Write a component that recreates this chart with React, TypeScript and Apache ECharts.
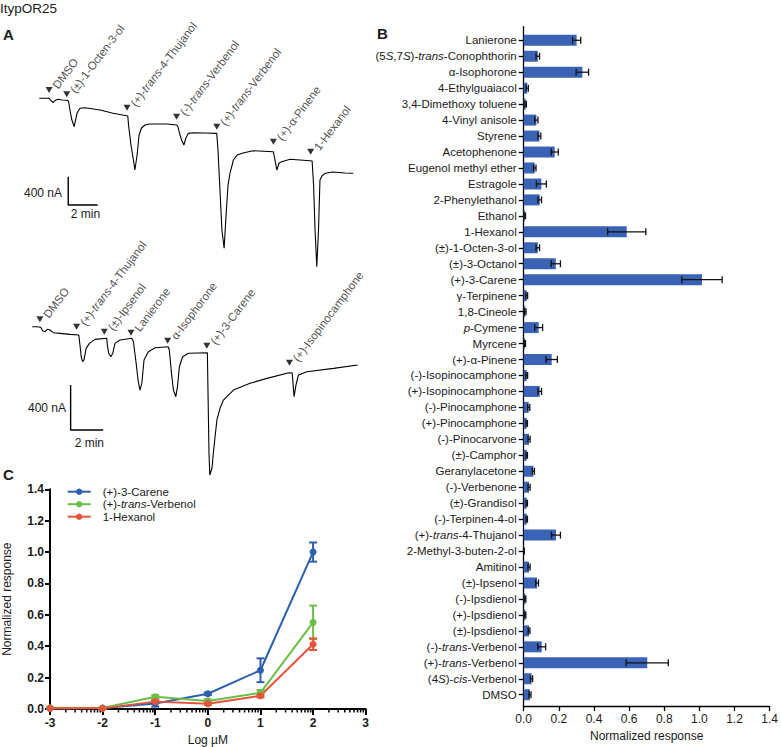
import React, { useEffect, useRef } from "react";
import * as echarts from "echarts";

const FONT = "'Liberation Sans', Arial, Helvetica, sans-serif";
const INK = "#1a1a1a";
const BAR_BLUE = "#3a63b6";

// ---------- Panel A: two-electrode voltage-clamp traces (time s, current nA) ----------
const trace1: [number, number][] = [
  [0, 0], [40, 0], [46, -24], [56, -62], [64, -31], [76, -14], [93, -24], [113, -28], [119, -38],
  [125, -165], [133, -307], [142, -401], [148, -307], [154, -208], [166, -141], [186, -133],
  [248, -165], [301, -212], [361, -250], [364, -377], [374, -660], [384, -872], [390, -1013],
  [399, -801], [407, -519], [417, -420], [431, -377], [452, -363], [521, -363], [561, -377],
  [566, -406], [574, -519], [582, -603], [590, -660], [598, -561], [608, -495], [627, -486],
  [676, -490], [724, -495], [729, -731], [737, -1296], [745, -1861], [754, -2120], [762, -1649],
  [770, -1225], [778, -1056], [792, -872], [807, -801], [831, -773], [872, -740], [955, -755],
  [960, -844], [969, -1013], [978, -914], [989, -896], [1023, -862], [1104, -882], [1113, -886],
  [1119, -1225], [1125, -1861], [1132, -2380], [1139, -1861], [1145, -1154], [1153, -1098],
  [1166, -1060], [1198, -1041], [1247, -1056], [1281, -1060],
];
const stim1Labels = ["DMSO", "(±)-1-Octen-3-ol", "(+)-_trans_-4-Thujanol", "(-)-_trans_-Verbenol", "(+)-_trans_-Verbenol", "(+)-α-Pinene", "1-Hexanol"];
const stim1Times = [40, 112, 358, 560, 724, 955, 1107];
const stim1Levels = [117, 57, -133, -260, -401, -613, -755];
const scaleBar1: [number, number][] = [[118, -1108], [118, -1508], [238, -1508]];

const trace2: [number, number][] = [
  [0, 0], [16, 0], [31, -5], [38, -36], [47, -44], [55, -23], [65, -29], [77, -53], [102, -59],
  [139, -68], [171, -74], [176, -178], [180, -267], [185, -311], [190, -296], [198, -192],
  [210, -148], [231, -112], [274, -103], [276, -163], [281, -236], [289, -267], [296, -236],
  [304, -148], [323, -118], [366, -103], [372, -133], [382, -325], [389, -474], [396, -563],
  [403, -503], [411, -296], [427, -222], [452, -187], [500, -178], [504, -207], [512, -414],
  [519, -563], [528, -622], [534, -533], [541, -356], [553, -267], [574, -236], [644, -231],
  [647, -681], [650, -1125], [653, -1318], [661, -1256], [666, -1123], [679, -829], [691, -723],
  [703, -652], [740, -563], [801, -503], [863, -459], [944, -409], [956, -412], [961, -563],
  [963, -622], [970, -518], [979, -429], [1010, -400], [1108, -370], [1197, -340],
];
const stim2Labels = ["DMSO", "(+)-_trans_-4-Thujanol", "(±)-Ipsenol", "Lanierone", "α-Isophorone", "(+)-3-Carene", "(+)-Isopinocamphone"];
const stim2Times = [28, 163, 265, 363, 498, 642, 946];
const stim2Levels = [66, 0, -44, -53, -124, -169, -320];
const scaleBar2: [number, number][] = [[141, -518], [141, -918], [261, -918]];

// ---------- Panel B: odorant screen ----------
const compounds = [
  "Lanierone", "(5_S_,7_S_)-_trans_-Conophthorin", "α-Isophorone", "4-Ethylguaiacol",
  "3,4-Dimethoxy toluene", "4-Vinyl anisole", "Styrene", "Acetophenone", "Eugenol methyl ether",
  "Estragole", "2-Phenylethanol", "Ethanol", "1-Hexanol", "(±)-1-Octen-3-ol", "(±)-3-Octanol",
  "(+)-3-Carene", "γ-Terpinene", "1,8-Cineole", "_p_-Cymene", "Myrcene", "(+)-α-Pinene",
  "(-)-Isopinocamphone", "(+)-Isopinocamphone", "(-)-Pinocamphone", "(+)-Pinocamphone",
  "(-)-Pinocarvone", "(±)-Camphor", "Geranylacetone", "(-)-Verbenone", "(±)-Grandisol",
  "(-)-Terpinen-4-ol", "(+)-_trans_-4-Thujanol", "2-Methyl-3-buten-2-ol", "Amitinol",
  "(±)-Ipsenol", "(-)-Ipsdienol", "(+)-Ipsdienol", "(±)-Ipsdienol", "(-)-_trans_-Verbenol",
  "(+)-_trans_-Verbenol", "(4_S_)-_cis_-Verbenol", "DMSO",
];
const responses = [
  0.297, 0.079, 0.329, 0.02, 0.011, 0.071, 0.088, 0.174, 0.062, 0.099, 0.09, 0.006, 0.578, 0.079,
  0.18, 1.0, 0.017, 0.009, 0.084, 0.007, 0.157, 0.017, 0.09, 0.028, 0.017, 0.03, 0.017, 0.054,
  0.03, 0.017, 0.017, 0.181, 0.002, 0.03, 0.075, 0.009, 0.009, 0.03, 0.101, 0.693, 0.044, 0.035,
];
const responseErr = [
  0.023, 0.01, 0.035, 0.006, 0.004, 0.009, 0.008, 0.02, 0.007, 0.028, 0.01, 0.004, 0.107, 0.01,
  0.026, 0.113, 0.005, 0.004, 0.022, 0.003, 0.032, 0.005, 0.01, 0.006, 0.004, 0.006, 0.004, 0.006,
  0.006, 0.004, 0.004, 0.025, 0.001, 0.006, 0.008, 0.003, 0.003, 0.005, 0.022, 0.118, 0.006, 0.006,
];

// ---------- Panel C: dose-response ----------
const logDose = [-3, -2, -1, 0, 1, 2];
const careneMean = [0.003, 0.006, 0.035, 0.097, 0.247, 1.0];
const careneSem = [0.004, 0.004, 0.02, 0.008, 0.076, 0.061];
const verbenolMean = [0.008, 0.006, 0.078, 0.051, 0.103, 0.552];
const verbenolSem = [0.003, 0.003, 0.01, 0.01, 0.018, 0.107];
const hexanolMean = [0.004, 0.004, 0.047, 0.034, 0.084, 0.413];
const hexanolSem = [0.002, 0.002, 0.008, 0.008, 0.01, 0.037];
const doseSeries = [
  { name: "(+)-3-Carene", label: "(+)-3-Carene", color: "#2c5fae", mean: careneMean, sem: careneSem },
  { name: "(+)-trans-Verbenol", label: "(+)-_trans_-Verbenol", color: "#6cbd47", mean: verbenolMean, sem: verbenolSem },
  { name: "1-Hexanol", label: "1-Hexanol", color: "#e5533b", mean: hexanolMean, sem: hexanolSem },
];

const rich = (s: string) => s.replace(/_([^_]+)_/g, "{i|$1}");
const italicStyle = (size: number, color = INK, weight: any = "normal") => ({
  i: { fontStyle: "italic", fontSize: size, fontFamily: FONT, color, fontWeight: weight },
});

function buildOption(): any {
  const minorTicks: number[] = [];
  for (let d = -3; d < 3; d++) for (let k = 2; k <= 9; k++) minorTicks.push(d + Math.log10(k));

  const stimSeries = (xi: number, times: number[], levels: number[], labels: string[]) => ({
    type: "scatter",
    xAxisIndex: xi,
    yAxisIndex: xi,
    data: times.map((t, i) => [t, levels[i]]),
    symbol: "triangle",
    symbolRotate: 180,
    symbolSize: [7, 6],
    itemStyle: { color: "#000" },
    z: 5,
    label: {
      show: true,
      position: "right",
      distance: 1,
      rotate: 53,
      align: "left",
      verticalAlign: "bottom",
      offset: [3, 5.5],
      color: INK,
      fontSize: 11.5,
      fontFamily: FONT,
      formatter: (p: any) => rich(labels[p.dataIndex]),
      rich: italicStyle(11.5),
    },
  });
  const traceSeries = (xi: number, data: [number, number][]) => ({
    type: "line", xAxisIndex: xi, yAxisIndex: xi, data, showSymbol: false, symbol: "none",
    lineStyle: { color: "#000", width: 1.1 }, z: 3,
  });
  const barSeries = (xi: number, data: [number, number][]) => ({
    type: "line", xAxisIndex: xi, yAxisIndex: xi, data, showSymbol: false, symbol: "none",
    lineStyle: { color: "#000", width: 1.4 },
  });

  const series: any[] = [
    traceSeries(0, trace1), barSeries(0, scaleBar1), stimSeries(0, stim1Times, stim1Levels, stim1Labels),
    traceSeries(1, trace2), barSeries(1, scaleBar2), stimSeries(1, stim2Times, stim2Levels, stim2Labels),
    {
      type: "bar", xAxisIndex: 2, yAxisIndex: 2, data: responses, barWidth: 11,
      itemStyle: { color: BAR_BLUE },
    },
    {
      type: "custom", xAxisIndex: 2, yAxisIndex: 2, z: 4,
      data: responses.map((v, i) => [Math.max(0, v - responseErr[i]), v + responseErr[i], i]),
      renderItem: (_p: any, api: any) => {
        const a = api.coord([api.value(0), api.value(2)]);
        const b = api.coord([api.value(1), api.value(2)]);
        const st = { stroke: "#111", lineWidth: 1.3 };
        return {
          type: "group",
          children: [
            { type: "line", shape: { x1: a[0], y1: a[1], x2: b[0], y2: b[1] }, style: st },
            { type: "line", shape: { x1: a[0], y1: a[1] - 3.5, x2: a[0], y2: a[1] + 3.5 }, style: st },
            { type: "line", shape: { x1: b[0], y1: b[1] - 3.5, x2: b[0], y2: b[1] + 3.5 }, style: st },
          ],
        };
      },
    },
    {
      type: "custom", xAxisIndex: 4, yAxisIndex: 4, z: 2, silent: true,
      data: minorTicks.map((x) => [x, 0]),
      renderItem: (_p: any, api: any) => {
        const p = api.coord([api.value(0), 0]);
        return { type: "line", shape: { x1: p[0], y1: p[1], x2: p[0], y2: p[1] + 3.5 }, style: { stroke: "#000", lineWidth: 1.5 } };
      },
    },
  ];

  doseSeries.forEach((s) => {
    series.push({
      type: "line", name: s.name, xAxisIndex: 4, yAxisIndex: 4,
      data: logDose.map((x, i) => [x, s.mean[i]]),
      symbol: "circle", symbolSize: 7, showSymbol: true,
      lineStyle: { color: s.color, width: 2 }, itemStyle: { color: s.color }, z: 4,
    });
    series.push({
      type: "custom", xAxisIndex: 4, yAxisIndex: 4, z: 3,
      data: logDose.map((x, i) => [x, Math.max(0, s.mean[i] - s.sem[i]), s.mean[i] + s.sem[i]]),
      renderItem: (_p: any, api: any) => {
        const a = api.coord([api.value(0), api.value(1)]);
        const b = api.coord([api.value(0), api.value(2)]);
        const st = { stroke: s.color, lineWidth: 2 };
        return {
          type: "group",
          children: [
            { type: "line", shape: { x1: a[0], y1: a[1], x2: b[0], y2: b[1] }, style: st },
            { type: "line", shape: { x1: a[0] - 4, y1: a[1], x2: a[0] + 4, y2: a[1] }, style: st },
            { type: "line", shape: { x1: b[0] - 4, y1: b[1], x2: b[0] + 4, y2: b[1] }, style: st },
          ],
        };
      },
    });
  });

  const hidden = { show: false };
  const noSplit = { show: false };
  const boldLabel = { color: INK, fontSize: 12, fontWeight: "bold", fontFamily: FONT };

  return {
    animation: false,
    backgroundColor: "#fff",
    textStyle: { fontFamily: FONT },
    grid: [
      { left: 39.3, top: 48.8, width: 314, height: 217.9 },
      { left: 32.3, top: 270.5, width: 325.4, height: 204.7 },
      { left: 523.7, top: 32.3, width: 249.6, height: 670.4 },
      { left: 523.7, top: 26.7, width: 249.6, height: 682.6 },
      { left: 49.3, top: 489.3, width: 316.4, height: 220.7 },
    ],
    xAxis: [
      { gridIndex: 0, type: "value", min: 0, max: 1281, ...hidden },
      { gridIndex: 1, type: "value", min: 0, max: 1197, ...hidden },
      { gridIndex: 2, type: "value", min: 0, max: 1.4, ...hidden },
      {
        gridIndex: 3, type: "value", min: 0, max: 1.4, interval: 0.2,
        axisLine: { show: true, lineStyle: { color: "#000", width: 1.3 } },
        axisTick: { show: true, inside: false, length: 5, lineStyle: { color: "#000", width: 1.3 } },
        axisLabel: { color: INK, fontSize: 12, fontFamily: FONT, margin: 7, formatter: (v: number) => v.toFixed(1) },
        splitLine: noSplit,
        name: "Normalized response", nameLocation: "middle", nameGap: 23,
        nameTextStyle: { color: INK, fontSize: 12, fontFamily: FONT },
      },
      {
        gridIndex: 4, type: "value", min: -3, max: 3, interval: 1,
        axisLine: { show: true, onZero: false, lineStyle: { color: "#000", width: 2 } },
        axisTick: { show: true, inside: false, length: 6, lineStyle: { color: "#000", width: 2 } },
        axisLabel: { ...boldLabel, margin: 8 },
        splitLine: noSplit,
        name: "Log µM", nameLocation: "middle", nameGap: 25,
        nameTextStyle: { color: INK, fontSize: 12, fontFamily: FONT },
      },
    ],
    yAxis: [
      { gridIndex: 0, type: "value", min: -2380, max: 700, ...hidden },
      { gridIndex: 1, type: "value", min: -1320, max: 500, ...hidden },
      {
        gridIndex: 2, type: "category", inverse: true, data: compounds,
        axisLine: { show: false },
        axisTick: { show: true, alignWithLabel: true, inside: false, length: 5, lineStyle: { color: "#000", width: 1.3 } },
        axisLabel: {
          color: INK, fontSize: 11.5, fontFamily: FONT, margin: 7, interval: 0,
          formatter: (v: string) => rich(v), rich: italicStyle(11.5),
        },
        splitLine: noSplit,
      },
      {
        gridIndex: 3, type: "value", min: 0, max: 1,
        axisLine: { show: true, lineStyle: { color: "#000", width: 1.3 } },
        axisTick: { show: false }, axisLabel: { show: false }, splitLine: noSplit,
      },
      {
        gridIndex: 4, type: "value", min: 0, max: 1.4, interval: 0.2,
        axisLine: { show: true, onZero: false, lineStyle: { color: "#000", width: 2 } },
        axisTick: { show: true, inside: false, length: 5, lineStyle: { color: "#000", width: 2 } },
        axisLabel: { ...boldLabel, margin: 6, formatter: (v: number) => v.toFixed(1) },
        splitLine: noSplit,
        name: "Normalized response", nameLocation: "middle", nameGap: 37, nameRotate: 90,
        nameTextStyle: { color: INK, fontSize: 12, fontFamily: FONT },
      },
    ],
    legend: {
      orient: "vertical", left: 66.7, top: 485.7, padding: 0, itemWidth: 23, itemHeight: 8, itemGap: 0.5,
      data: doseSeries.map((s) => s.name),
      formatter: (name: string) => rich(doseSeries.find((s) => s.name === name)!.label),
      textStyle: { color: INK, fontSize: 11.5, fontFamily: FONT, lineHeight: 12, padding: [0, 0, 0, 7], rich: italicStyle(11.5) },
    },
    graphic: [
      { type: "text", left: 0, top: 1, style: { text: "ItypOR25", font: `13.5px ${FONT}`, fill: INK } },
      { type: "text", left: 3, top: 27, style: { text: "A", font: `bold 15px ${FONT}`, fill: INK } },
      { type: "text", left: 377, top: 26, style: { text: "B", font: `bold 15px ${FONT}`, fill: INK } },
      { type: "text", left: 3, top: 467, style: { text: "C", font: `bold 15px ${FONT}`, fill: INK } },
      { type: "text", x: 62, y: 193, style: { text: "400 nA", font: `12px ${FONT}`, fill: INK, align: "right", verticalAlign: "middle" } },
      { type: "text", x: 85.5, y: 213.5, style: { text: "2 min", font: `12px ${FONT}`, fill: INK, align: "center", verticalAlign: "middle" } },
      { type: "text", x: 66, y: 407.5, style: { text: "400 nA", font: `12px ${FONT}`, fill: INK, align: "right", verticalAlign: "middle" } },
      { type: "text", x: 89.3, y: 443.3, style: { text: "2 min", font: `12px ${FONT}`, fill: INK, align: "center", verticalAlign: "middle" } },
    ],
    series,
  };
}

export default function App() {
  const ref = useRef<HTMLDivElement>(null);
  useEffect(() => {
    const chart = echarts.init(ref.current!, null, { renderer: "svg", width: 781, height: 747 });
    chart.setOption(buildOption());
    return () => chart.dispose();
  }, []);
  return (
    <div
      ref={ref}
      style={{ position: "fixed", left: 0, top: 0, width: 781, height: 747, background: "#fff" }}
    />
  );
}
